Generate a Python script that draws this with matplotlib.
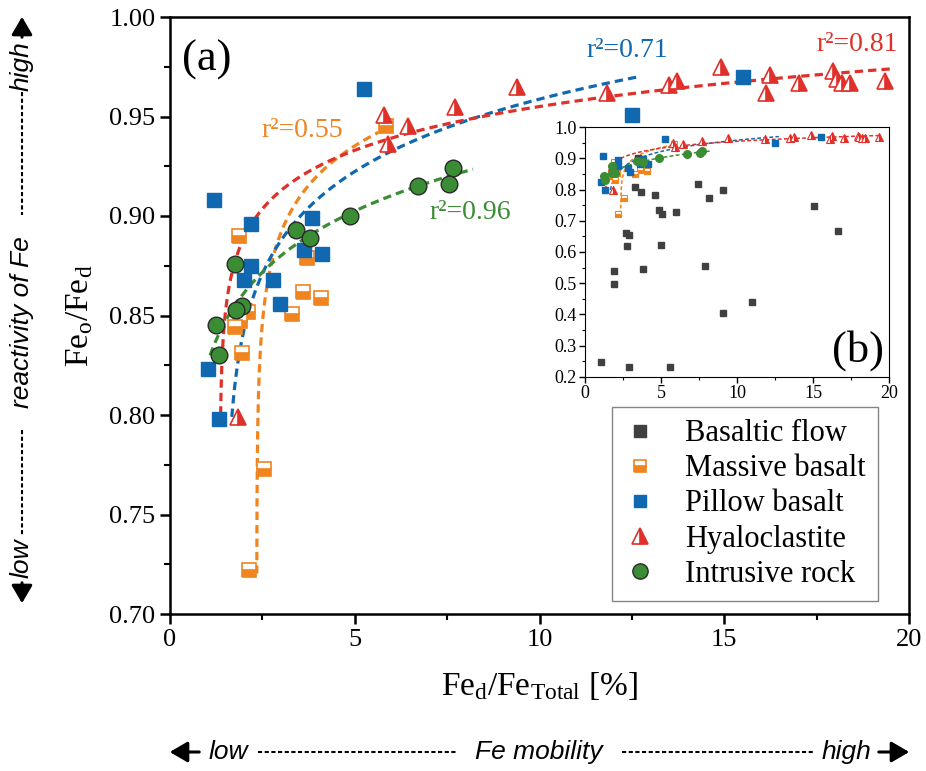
import numpy as np
import matplotlib.pyplot as plt
from matplotlib.lines import Line2D
from matplotlib.patches import FancyArrowPatch

plt.rcParams['font.family'] = ['Liberation Serif', 'DejaVu Serif']
plt.rcParams['mathtext.fontset'] = 'custom'
plt.rcParams['mathtext.rm'] = 'Liberation Serif'

# ---- data (Fed/FeTotal [%], Feo/Fed) ----
basaltic_x = [1.05, 2.89, 5.59, 1.93, 1.93, 2.68, 2.89, 2.76, 3.27, 3.66, 3.84, 4.58, 4.85,
              5.09, 5.0, 6.01, 7.41, 8.13, 7.87, 9.08, 9.08, 10.96, 15.07, 16.67, 3.5]
basaltic_y = [0.246, 0.230, 0.232, 0.497, 0.538, 0.662, 0.656, 0.619, 0.808, 0.793, 0.545, 0.783, 0.734,
              0.723, 0.623, 0.727, 0.817, 0.774, 0.555, 0.798, 0.404, 0.439, 0.748, 0.666, 0.900]

massive_x = [5.85, 1.88, 3.7, 3.6, 4.1, 3.3, 2.1, 1.9, 1.75, 1.95, 2.55, 2.15]
massive_y = [0.945, 0.890, 0.879, 0.862, 0.859, 0.851, 0.852, 0.847, 0.844, 0.831, 0.773, 0.722]

pillow_x = [5.25, 1.2, 2.2, 3.83, 2.2, 2.0, 3.63, 4.12, 2.8, 2.98, 1.04, 1.33, 12.5, 15.5]
pillow_y = [0.964, 0.908, 0.896, 0.899, 0.875, 0.868, 0.883, 0.881, 0.868, 0.856, 0.823, 0.798, 0.951, 0.970]

hyalo_x = [5.8, 6.45, 5.9, 7.7, 9.4, 11.83, 13.5, 13.72, 14.9, 16.25, 16.12, 17.02,
           17.95, 18.05, 18.2, 18.4, 19.35, 1.83]
hyalo_y = [0.951, 0.945, 0.936, 0.955, 0.965, 0.962, 0.966, 0.968, 0.975, 0.971, 0.962, 0.967,
           0.973, 0.969, 0.967, 0.967, 0.968, 0.799]

intrusive_x = [7.67, 6.7, 7.55, 4.88, 3.4, 3.8, 1.77, 1.96, 1.78, 1.25, 1.33]
intrusive_y = [0.924, 0.915, 0.916, 0.900, 0.893, 0.889, 0.876, 0.855, 0.853, 0.845, 0.830]

# log fits y = a + b*ln(x - c), then x range
massive_fit = [0.9048, 0.0312, 2.3465, 2.3492, 5.64]
pillow_fit = [0.871, 0.041, 1.5, 1.673, 12.75]
hyalo_fit = [0.900, 0.0255, 1.35, 1.37, 19.5]
intrusive_fit = [0.8398, 0.0405, 0.3, 1.085, 8.2]

r2_labels = ['r²=0.55', 'r²=0.71', 'r²=0.81', 'r²=0.96']
legend_labels = ['Basaltic flow', 'Massive basalt', 'Pillow basalt', 'Hyaloclastite', 'Intrusive rock']

c_dark = '#404040'
c_orange = '#f0841f'
c_blue = '#0f68b0'
c_red = '#e0302a'
c_green = '#3a8d34'


def fit_curve(p):
    a, b, c, x0, x1 = p
    u = np.geomspace(x0 - c, x1 - c, 400)
    return c + u, a + b * np.log(u)


W, H = 926, 771
fig = plt.figure(figsize=(W / 100, H / 100), dpi=100)
ax = fig.add_axes([170 / W, 1 - 614 / H, 739 / W, 597 / H])

dash = (0, (2.6, 1.6))
for p, col in [(massive_fit, c_orange), (pillow_fit, c_blue), (hyalo_fit, c_red), (intrusive_fit, c_green)]:
    xx, yy = fit_curve(p)
    ax.plot(xx, yy, color=col, lw=2.3, ls=dash, zorder=2)

ax.plot(massive_x, massive_y, ls='none', marker='s', ms=10, mec=c_orange, mfc=c_orange,
        mfcalt='white', fillstyle='bottom', mew=1.2, zorder=3)
ax.plot(pillow_x, pillow_y, ls='none', marker='s', ms=10.5, mec=c_blue, mfc=c_blue, zorder=4)
ax.plot(hyalo_x, hyalo_y, ls='none', marker='^', ms=12, mec=c_red, mfc=c_red,
        mfcalt='white', fillstyle='right', mew=1.2, zorder=5)
ax.plot(intrusive_x, intrusive_y, ls='none', marker='o', ms=12, mec='#2a2a2a', mfc=c_green,
        mew=1.0, zorder=6)

ax.text(3.57, 0.943, r2_labels[0], color=c_orange, fontsize=20, ha='center', va='center')
ax.text(12.37, 0.9834, r2_labels[1], color=c_blue, fontsize=20, ha='center', va='center')
ax.text(18.6, 0.986, r2_labels[2], color=c_red, fontsize=20, ha='center', va='center')
ax.text(8.12, 0.902, r2_labels[3], color=c_green, fontsize=20, ha='center', va='center')
ax.text(0.05, 0.928, '(a)', transform=ax.transAxes, fontsize=32, ha='center', va='center')

ax.set_xlim(0, 20)
ax.set_ylim(0.70, 1.00)
ax.set_xticks([0, 5, 10, 15, 20])
ax.set_xticks(np.arange(0, 20.1, 2.5), minor=True)
ax.set_yticks(np.arange(0.70, 1.001, 0.05))
ax.set_yticks(np.arange(0.70, 1.001, 0.025), minor=True)
ax.set_yticklabels(['%.2f' % v for v in np.arange(0.70, 1.001, 0.05)])
ax.tick_params(which='major', direction='out', length=7, width=1.8, labelsize=19)
ax.tick_params(which='minor', direction='out', length=4, width=1.5)
for s in ax.spines.values():
    s.set_linewidth(1.8)
ax.set_xlabel(r'$\mathregular{Fe_d/Fe_{Total}}$ [%]', fontsize=24, labelpad=14)
ax.set_ylabel(r'$\mathregular{Fe_o/Fe_d}$', fontsize=24, labelpad=10)

# ---- inset (b) ----
ins = fig.add_axes([585 / W, 1 - 376.7 / H, 304 / W, 249.4 / H])
for p, col in [(massive_fit, c_orange), (pillow_fit, c_blue), (hyalo_fit, c_red), (intrusive_fit, c_green)]:
    xx, yy = fit_curve(p)
    ins.plot(xx, yy, color=col, lw=1.1, ls=(0, (2.5, 1.5)), zorder=2)
ins.plot(basaltic_x, basaltic_y, ls='none', marker='s', ms=5, mec=c_dark, mfc=c_dark, zorder=3)
ins.plot(massive_x, massive_y, ls='none', marker='s', ms=4.5, mec=c_orange, mfc=c_orange,
         mfcalt='white', fillstyle='bottom', mew=0.8, zorder=3)
ins.plot(pillow_x, pillow_y, ls='none', marker='s', ms=5, mec=c_blue, mfc=c_blue, zorder=4)
ins.plot(hyalo_x, hyalo_y, ls='none', marker='^', ms=5.5, mec=c_red, mfc=c_red,
         mfcalt='white', fillstyle='right', mew=0.8, zorder=5)
ins.plot(intrusive_x, intrusive_y, ls='none', marker='o', ms=5.5, mec=c_green, mfc=c_green, zorder=6)
ins.set_xlim(0, 20)
ins.set_ylim(0.2, 1.0)
ins.set_xticks([0, 5, 10, 15, 20])
ins.set_xticks(np.arange(0, 20.1, 2.5), minor=True)
ins.set_yticks(np.arange(0.2, 1.001, 0.1))
ins.set_yticks(np.arange(0.2, 1.001, 0.05), minor=True)
ins.set_yticklabels(['%.1f' % v for v in np.arange(0.2, 1.001, 0.1)])
ins.tick_params(which='major', direction='out', length=4, width=1, labelsize=13, pad=2)
ins.tick_params(which='minor', direction='out', length=2.5, width=0.8)
ins.text(0.898, 0.107, '(b)', transform=ins.transAxes, fontsize=32, ha='center', va='center')

# ---- legend ----
handles = [
    Line2D([], [], ls='none', marker='s', ms=9, mec=c_dark, mfc=c_dark),
    Line2D([], [], ls='none', marker='s', ms=9, mec=c_orange, mfc=c_orange, mfcalt='white',
           fillstyle='bottom', mew=1.2),
    Line2D([], [], ls='none', marker='s', ms=9, mec=c_blue, mfc=c_blue),
    Line2D([], [], ls='none', marker='^', ms=11, mec=c_red, mfc=c_red, mfcalt='white',
           fillstyle='right', mew=1.2),
    Line2D([], [], ls='none', marker='o', ms=11, mec='#2a2a2a', mfc=c_green, mew=1.0),
]
leg = fig.legend(handles, legend_labels, loc='upper left', bbox_to_anchor=(612 / W, 1 - 407 / H),
                 fontsize=22, frameon=True, fancybox=False, edgecolor='#666666',
                 handlelength=1.0, handletextpad=1.0, labelspacing=0.2, borderpad=0.4,
                 borderaxespad=0)
leg.get_frame().set_linewidth(1.0)


# ---- side annotations ----
def fp(x, y):
    return (x / W, 1 - y / H)


sans = ['Liberation Sans Narrow', 'Liberation Sans', 'DejaVu Sans']
arrow_kw = dict(arrowstyle='-|>,head_length=0.6,head_width=0.35', color='black', lw=2.2,
                transform=fig.transFigure, mutation_scale=18)
dots = dict(color='black', lw=1.5, ls=(0, (2, 1.2)))
fs_side = 19

# bottom: Fe mobility
yb = 752
fig.add_artist(Line2D([258 / W, 458 / W], [fp(0, yb)[1]] * 2, **dots))
fig.add_artist(Line2D([622 / W, 815 / W], [fp(0, yb)[1]] * 2, **dots))
fig.text(*fp(228, yb), 'low', family=sans, style='italic', fontsize=fs_side, ha='center', va='center')
fig.text(*fp(539, yb), 'Fe mobility', family=sans, style='italic', fontsize=fs_side, ha='center', va='center')
fig.text(*fp(846, yb), 'high', family=sans, style='italic', fontsize=fs_side, ha='center', va='center')
fig.add_artist(FancyArrowPatch(fp(202, yb), fp(167, yb), **arrow_kw))
fig.add_artist(FancyArrowPatch(fp(876, yb), fp(912, yb), **arrow_kw))

# left: reactivity of Fe
xl = 22
fig.add_artist(Line2D([xl / W] * 2, [fp(0, 92)[1], fp(0, 215)[1]], **dots))
fig.add_artist(Line2D([xl / W] * 2, [fp(0, 430)[1], fp(0, 535)[1]], **dots))
fig.text(*fp(xl, 66), 'high', family=sans, style='italic', fontsize=fs_side, ha='center', va='center',
         rotation=90)
fig.text(*fp(xl, 322), 'reactivity of Fe', family=sans, style='italic', fontsize=fs_side, ha='center',
         va='center', rotation=90)
fig.text(*fp(xl, 558), 'low', family=sans, style='italic', fontsize=fs_side, ha='center', va='center',
         rotation=90)
fig.add_artist(FancyArrowPatch(fp(xl, 40), fp(xl, 14), **arrow_kw))
fig.add_artist(FancyArrowPatch(fp(xl, 580), fp(xl, 606), **arrow_kw))

fig.savefig('out.png', dpi=100)
